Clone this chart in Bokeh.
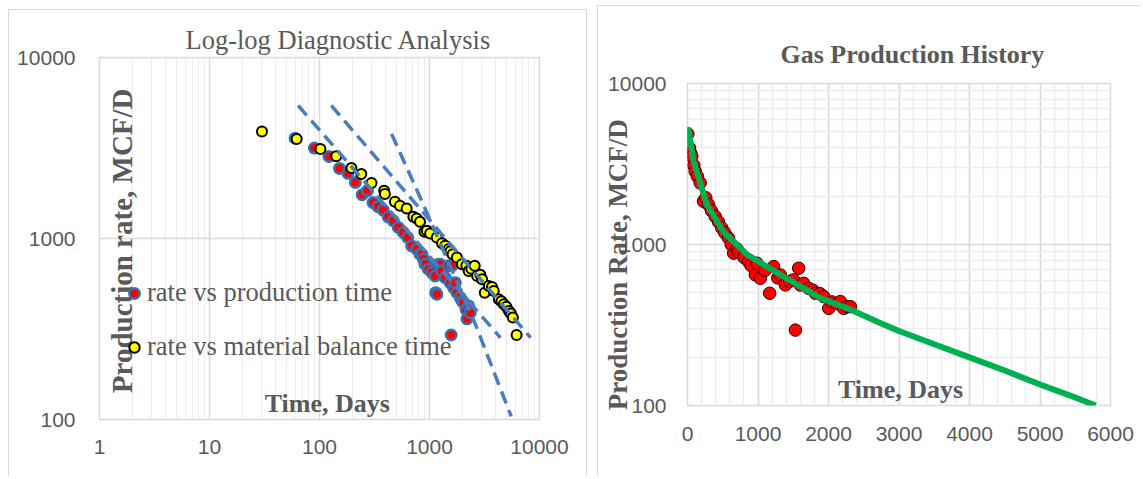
from math import pi
from bokeh.plotting import figure
from bokeh.models import FixedTicker, NumeralTickFormatter, Label, Legend, LegendItem
from bokeh.layouts import row, column
from bokeh.embed import file_html
from bokeh.resources import INLINE

# ---------------- data: left chart (log-log diagnostic) ----------------
prod_time = [60, 90, 122, 152, 182, 212, 244, 273, 307, 341, 379, 421, 468, 520, 578, 633,
             688, 765, 820, 851, 881, 912, 925, 978, 1050, 1125, 1140, 1167, 1207, 1250, 1294,
             1389, 1489, 1542, 1574, 1600, 1655, 1714, 1774, 1905, 1972, 2043, 2147, 2193, 2270, 2350]
prod_rate = [3580, 3160, 2840, 2440, 2290, 2040, 1745, 1840, 1580, 1500, 1435, 1318, 1253, 1151, 1080, 1013,
             911, 873, 819, 820, 769, 721, 721, 677, 648, 621, 502, 492, 721, 721, 662,
             608, 706, 570, 293, 706, 535, 570, 502, 471, 452, 442, 406, 360, 424, 389]

mbt_time = [30, 62, 102, 142, 195, 240, 297, 387, 393, 485, 539, 620, 713, 765, 820, 900, 945,
            1013, 1165, 1300, 1389, 1489, 1550, 1622, 1774, 1972, 2163, 2270, 2400, 2577, 2708,
            2900, 3010, 3180, 3460, 3700, 3840, 4266, 4500, 4742, 5000, 5272, 5500, 5730, 6190]
mbt_rate = [3900, 3550, 3126, 2845, 2450, 2270, 2023, 1836, 1760, 1597, 1517, 1466, 1318, 1291, 1237, 1090, 1103,
            1066, 1013, 940, 911, 873, 850, 819, 785, 721, 706, 662, 680, 706, 621,
            630, 596, 502, 547, 540, 513, 461, 450, 433, 420, 398, 385, 366, 293]

fit1_time = [64, 4415]
fit1_rate = [5430, 283]
fit2_time = [128, 8310]
fit2_rate = [5430, 283]
fit3_time = [452, 849, 2612, 5530]
fit3_rate = [3785, 1617, 336, 104]

# ---------------- data: right chart (production history) ----------------
hist_time = [5, 28, 45, 62, 90, 109, 140, 180, 227, 260, 298, 340, 393, 440, 488, 530, 583, 620,
             654, 700, 724, 800, 866, 900, 962, 986, 1033, 1100, 1165, 1222, 1280, 1317, 1388,
             1450, 1506, 1530, 1577, 1600, 1648, 1719, 1780, 1814, 1880, 1932, 2003, 2050, 2120,
             2169, 2216, 2264, 2311]
hist_rate = [4860, 3980, 3700, 3530, 3100, 2850, 2650, 2410, 1855, 1950, 1767, 1620, 1493, 1380, 1263, 1180, 1095, 1000,
             883, 940, 904, 830, 783, 740, 648, 765, 617, 690, 498, 729, 620, 647, 561,
             590, 603, 294, 712, 560, 574, 534, 520, 498, 495, 475, 401, 440, 430,
             442, 401, 411, 411]

model_time = [10, 85, 275, 510, 845, 1315, 1885, 2310, 2700, 3000, 3500, 4000, 4500, 5000, 5400, 5790]
model_rate = [5300, 3300, 1770, 1200, 865, 650, 465, 395, 330, 290, 240, 199, 165, 135, 116.5, 100]

x_log_ticks = [1, 10, 100, 1000, 10000]
y_log_ticks = [100, 1000, 10000]
x_lin_ticks = [0, 1000, 2000, 3000, 4000, 5000, 6000]

GRAY = "#595959"
SERIF = "Liberation Serif"
SANS = "Liberation Sans"
EDGE = "1px solid #D9D9D9"
NBSP = "\u00a0"


def style(p):
    p.outline_line_color = "#D9D9D9"
    p.outline_line_width = 1.5
    p.background_fill_color = "white"
    p.border_fill_color = "white"
    for ax in (p.xaxis, p.yaxis):
        ax.axis_line_color = None
        ax.major_tick_line_color = None
        ax.minor_tick_line_color = None
        ax.major_tick_out = 0
        ax.major_tick_in = 0
        ax.minor_tick_out = 0
        ax.minor_tick_in = 0
        ax.major_label_text_font = SANS
        ax.major_label_text_font_size = "21px"
        ax.major_label_text_color = GRAY
        ax.formatter = NumeralTickFormatter(format="0")
    p.title.text_font = SERIF
    p.title.text_font_size = "26.5px"
    p.title.text_color = GRAY
    p.title.align = "left"


# ---------------- left figure ----------------
p1 = figure(x_axis_type="log", y_axis_type="log", x_range=(1, 10000), y_range=(100, 10000),
            frame_width=438, frame_height=361, min_border_left=90, min_border_right=49,
            min_border_top=47, min_border_bottom=58, output_backend="svg",
            toolbar_location=None, title="Log-log Diagnostic Analysis",
            styles={"border-left": EDGE, "border-top": EDGE, "border-right": EDGE},
            margin=(9, 0, 0, 8))
style(p1)
p1.title.text_font_style = "normal"
p1.title.offset = 86
p1.title.standoff = 5
xt1 = FixedTicker(ticks=x_log_ticks,
                  minor_ticks=[m * 10 ** e for e in range(0, 4) for m in range(2, 10)])
yt1 = FixedTicker(ticks=y_log_ticks, minor_ticks=[])
p1.xaxis.ticker = xt1
p1.yaxis.ticker = yt1
p1.xgrid.ticker = xt1
p1.ygrid.ticker = yt1
p1.xgrid.grid_line_color = "#D9D9D9"
p1.xgrid.grid_line_width = 1.5
p1.xgrid.minor_grid_line_color = "#ECECEC"
p1.xgrid.minor_grid_line_width = 1
p1.ygrid.grid_line_color = "#D9D9D9"
p1.ygrid.grid_line_width = 1.5
p1.xaxis.major_label_standoff = 20
p1.yaxis.major_label_standoff = 24

r_prod = p1.scatter(prod_time, prod_rate, size=10.5, fill_color="#FF0000",
                    line_color="#2E75B6", line_width=2.5)
r_mbt = p1.scatter(mbt_time, mbt_rate, size=10, fill_color="#FFFF00",
                   line_color="#000000", line_width=2)
for ft, fq in ((fit1_time, fit1_rate), (fit2_time, fit2_rate), (fit3_time, fit3_rate)):
    p1.line(ft, fq, line_color="#4A7EBB", line_width=3.5, line_dash="13 7")

leg = Legend(items=[LegendItem(label="rate vs production time", renderers=[r_prod]),
                    LegendItem(label="rate vs material balance time", renderers=[r_mbt])],
             location=(22, 57), orientation="vertical", padding=0, margin=0,
             spacing=23, glyph_width=26, glyph_height=30, label_height=30,
             label_standoff=0, border_line_color=None, background_fill_alpha=0,
             label_text_font=SERIF, label_text_font_size="26.5px", label_text_color=GRAY)
p1.add_layout(leg)

p1.add_layout(Label(x=1.61, y=971, text="Production rate, MCF/D", angle=pi / 2,
                    text_font=SERIF, text_font_size="29px", text_font_style="bold",
                    text_color=GRAY, text_align="center", text_baseline="middle"))
p1.add_layout(Label(x=117.6, y=123, text="Time, Days", text_font=SERIF,
                    text_font_size="26px", text_font_style="bold", text_color=GRAY,
                    text_align="center", text_baseline="middle"))

# ---------------- right figure ----------------
p2 = figure(y_axis_type="log", x_range=(0, 6000), y_range=(100, 10000),
            frame_width=422, frame_height=321, min_border_left=89, min_border_right=31,
            min_border_top=77, min_border_bottom=72, output_backend="svg",
            toolbar_location=None, title="Gas Production History",
            styles={"border-left": EDGE, "border-top": EDGE},
            margin=(5, 0, 0, 10))
style(p2)
p2.title.text_font_style = "bold"
p2.title.text_font_size = "26px"
p2.title.offset = 93
p2.title.standoff = 29
xt2 = FixedTicker(ticks=x_lin_ticks, minor_ticks=list(range(0, 6001, 200)))
yt2 = FixedTicker(ticks=y_log_ticks,
                  minor_ticks=[m * 10 ** e for e in range(2, 4) for m in range(2, 10)])
p2.xaxis.ticker = xt2
p2.yaxis.ticker = yt2
p2.xgrid.ticker = xt2
p2.ygrid.ticker = yt2
for g in (p2.xgrid, p2.ygrid):
    g.grid_line_color = "#D9D9D9"
    g.grid_line_width = 1.5
    g.minor_grid_line_color = "#ECECEC"
    g.minor_grid_line_width = 1.5
p2.xaxis.major_label_standoff = 21
p2.yaxis.major_label_standoff = 21
p2.yaxis.axis_label = "Production Rate, MCF/D" + NBSP * 6
p2.yaxis.axis_label_text_font = SERIF
p2.yaxis.axis_label_text_font_size = "27px"
p2.yaxis.axis_label_text_font_style = "bold"
p2.yaxis.axis_label_text_color = GRAY
p2.yaxis.axis_label_standoff = -28

p2.scatter(hist_time, hist_rate, size=12.5, fill_color="#FF0000", line_color="#3A0000",
           line_width=1)
p2.line(model_time, model_rate, line_color="#00B050", line_width=6)

p2.add_layout(Label(x=3021, y=125, text="Time, Days", text_font=SERIF,
                    text_font_size="26px", text_font_style="bold", text_color=GRAY,
                    text_align="center", text_baseline="middle"))

layout = row(column(p1), column(p2), spacing=0)
open("out.html", "w").write(file_html(layout, INLINE))
